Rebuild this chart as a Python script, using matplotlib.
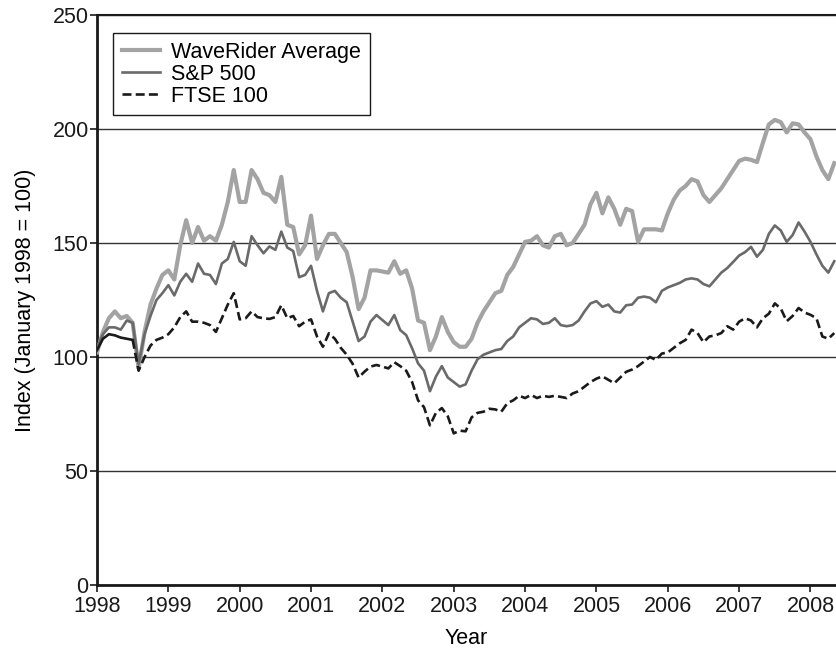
import numpy as np
import matplotlib
matplotlib.use("Agg")
import matplotlib.pyplot as plt

plt.rcParams['font.family'] = ['Liberation Sans', 'DejaVu Sans']

start_year = 1998
waverider = [102, 111, 117, 120, 117, 118, 115, 95, 111, 123, 130, 136,
             138, 134, 149, 160, 150, 157, 151, 153, 151, 158, 168, 182,
             168, 168, 182, 178, 172, 171, 168, 179, 158, 157, 145, 149,
             162, 143, 149, 154, 154, 150, 146, 135, 121, 126, 138, 138,
             137.5, 137, 142, 136.5, 138, 130, 116, 115, 103, 109, 117.5, 111,
             106.5, 104.5, 104.5, 108, 115, 120, 124, 128, 129, 136, 139.5, 145,
             150.5, 151, 153, 149, 148, 153, 154, 149, 150, 154, 158, 167,
             172, 163, 170, 165, 158, 165, 164, 150.5, 156, 156, 156, 155.5,
             163, 169, 173, 175, 178, 177, 171, 168, 171, 174, 178, 182,
             186, 187, 186.5, 185.5, 194, 202, 204, 203, 198.5, 202.5, 202, 198.5,
             195.5, 188, 182, 178, 185]
sp500 = [104, 110, 113, 113, 112, 116, 115, 97, 110, 118, 125, 128,
         131.5, 127, 133, 136.5, 133, 141, 136.5, 136, 132, 141, 143, 150.5,
         142, 140, 153, 149, 145.5, 148.5, 147, 155, 148, 146.5, 135, 136,
         140, 129, 120, 128, 129, 126, 124, 115.5, 107, 109, 115.5, 118.4,
         116.2, 114, 118.4, 111.8, 109.6, 103.8, 97.2, 94, 85, 91.4, 96, 91,
         89, 87, 88, 94, 99, 101, 102, 103, 103.5, 107, 109, 113,
         115, 117, 116.5, 114.5, 115, 117, 114, 113.5, 114, 116, 120, 123.5,
         124.5, 122, 123, 120, 119.5, 122.7, 123, 126, 126.5, 126, 124, 129,
         130.5, 131.5, 132.5, 134, 134.5, 134, 132, 131, 134, 137, 139, 141.7,
         144.5, 146, 148.3, 144, 147, 154, 157.7, 155.5, 150.5, 153.5, 159, 155,
         150.5, 145, 140, 137, 142]
ftse100 = [103, 108, 110, 109.5, 108.5, 108, 107.5, 94, 100, 105, 107.5, 108.5,
           110, 113, 117.5, 120, 115.5, 115.5, 115, 114, 111, 117, 123, 128,
           116.5, 117, 120, 117.5, 117, 116.7, 117.5, 122.7, 117, 118, 113.5, 115.5,
           116.5, 109, 104.5, 110.4, 108, 104, 101, 97, 91, 93.6, 95.8, 96.5,
           95.8, 95, 97.7, 96, 94, 89, 81, 78, 70, 75.5, 77.6, 74,
           66.5, 67.7, 67.4, 73.5, 75.5, 76, 77.3, 77, 76, 79.7, 81, 83,
           82, 83.4, 82, 83, 82.5, 83, 82.5, 82, 84, 85, 87, 89,
           90.5, 91.5, 90, 88.5, 91, 93.5, 94.5, 96, 98, 100, 98.7, 101.5,
           102, 104, 106, 107.5, 112, 110.5, 106.5, 109, 109.5, 110.5, 113.5, 112,
           115.5, 117, 116, 113, 117, 119, 123.5, 121.3, 115.7, 118, 121.5, 119.5,
           118.5, 117, 109, 108, 110.5]
series_labels = ["WaveRider Average", "S&P 500", "FTSE 100"]
year_ticks = list(range(1998, 2009))
y_ticks = [0, 50, 100, 150, 200, 250]

t = start_year + np.arange(len(waverider)) / 12.0

W, H = 836, 650
fig = plt.figure(figsize=(W / 100, H / 100), dpi=100)
ax = fig.add_axes([97 / W, (H - 585) / H, (836 - 97) / W, (585 - 15) / H])

ax.plot(t, waverider, color='#a3a3a3', lw=3.0, solid_joinstyle='round',
        label=series_labels[0], zorder=3)
ax.plot(t, sp500, color='#6a6a6a', lw=1.9, solid_joinstyle='round',
        label=series_labels[1], zorder=4)
ax.plot(t[6:], ftse100[6:], color='#1a1a1a', lw=1.9, dashes=(3.4, 1.6),
        label=series_labels[2], zorder=5)
ax.plot(t[:7], ftse100[:7], color='#1a1a1a', lw=1.9, zorder=5)

ax.set_xlim(1998, 1998 + (836 - 97.5) / 71.3)
ax.set_ylim(0, 250)
ax.set_xticks(year_ticks)
ax.set_xticklabels([str(y) for y in year_ticks])
ax.set_yticks(y_ticks)
ax.yaxis.grid(True, color='#333333', lw=1.0)
ax.set_axisbelow(True)

for side in ['left', 'bottom']:
    ax.spines[side].set_linewidth(2.0)
    ax.spines[side].set_color('#1a1a1a')
ax.spines['top'].set_linewidth(1.5)
ax.spines['top'].set_color('#1a1a1a')
ax.spines['right'].set_visible(False)

ax.tick_params(axis='both', direction='out', length=5, width=1.2,
               labelsize=15.5, colors='#1a1a1a')
ax.tick_params(axis='x', pad=3)
ax.tick_params(axis='y', pad=1)
ax.set_xlabel("Year", fontsize=15.5, labelpad=8)
ax.set_ylabel("Index (January 1998 = 100)", fontsize=15.5, labelpad=12)

leg = ax.legend(loc='upper left', bbox_to_anchor=((113 - 97) / 739, (585 - 33) / 570),
                borderaxespad=0, fontsize=15.5, frameon=True, fancybox=False,
                edgecolor='#1a1a1a', handlelength=1.8, handletextpad=0.5,
                labelspacing=0.05, borderpad=0.4)
leg.get_frame().set_linewidth(1.0)
leg.get_frame().set_alpha(1)

fig.savefig("out.png", dpi=100)
